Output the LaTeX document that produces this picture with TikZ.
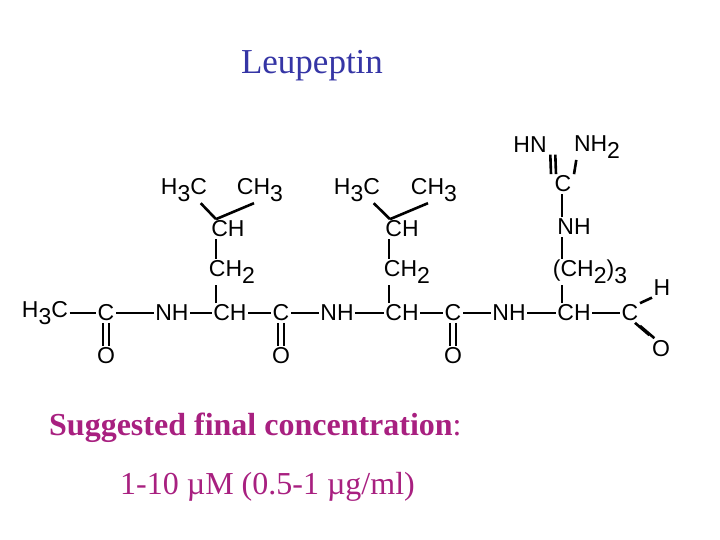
\documentclass[tikz,border=0pt]{standalone}
\usepackage{fontspec}
\setmainfont{Liberation Serif}
\newfontfamily\chem{Liberation Sans}
\definecolor{tblue}{HTML}{3535A5}
\definecolor{mag}{HTML}{A82080}
\newcommand{\sbs}[1]{\raisebox{-0.55ex}{#1}}
\begin{document}
\begin{tikzpicture}[x=1pt,y=-1pt,
 atm/.style={font=\chem\fontsize{23}{23}\selectfont, inner sep=1.5pt},
 bd/.style={line width=2.6pt}]
\useasboundingbox (0,0) rectangle (720,540);
\node[tblue,font=\fontsize{35}{35}\selectfont] (title) at (312,66) {Leupeptin};
% main chain
\node[atm] (me) at (45,313) {H\sbs{3}C};
\node[atm] (c1) at (106,313) {C};
\node[atm] (n1) at (172,313) {NH};
\node[atm] (a1) at (230,313) {CH};
\node[atm] (c2) at (281,313) {C};
\node[atm] (n2) at (337,313) {NH};
\node[atm] (a2) at (402,313) {CH};
\node[atm] (c3) at (453,313) {C};
\node[atm] (n3) at (509,313) {NH};
\node[atm] (a3) at (574,313) {CH};
\node[atm] (c4) at (630,313) {C};
\node[atm] (h4) at (662,288) {H};
\node[atm] (o4) at (661,349) {O};
\node[atm] (o1) at (106,356) {O};
\node[atm] (o2) at (281,356) {O};
\node[atm] (o3) at (453,356) {O};
% side chain 1
\node[atm] (s1a) at (232,272) {CH\sbs{2}};
\node[atm] (s1b) at (228,229) {CH};
\node[atm] (s1l) at (184,190) {H\sbs{3}C};
\node[atm] (s1r) at (260,190) {CH\sbs{3}};
% side chain 2
\node[atm] (s2a) at (407,272) {CH\sbs{2}};
\node[atm] (s2b) at (402,229) {CH};
\node[atm] (s2l) at (357,190) {H\sbs{3}C};
\node[atm] (s2r) at (434,190) {CH\sbs{3}};
% side chain 3
\node[atm] (s3a) at (590,272) {(CH\sbs{2})\sbs{3}};
\node[atm] (s3b) at (574,227) {NH};
\node[atm] (s3c) at (563,184) {C};
\node[atm] (s3l) at (530,145) {HN};
\node[atm] (s3r) at (597,147) {NH\sbs{2}};
% bonds
\draw[bd] (me.east) -- (c1.west);
\draw[bd] (c1.east) -- (n1.west);
\draw[bd] (n1.east) -- (a1.west);
\draw[bd] (a1.east) -- (c2.west);
\draw[bd] (c2.east) -- (n2.west);
\draw[bd] (n2.east) -- (a2.west);
\draw[bd] (a2.east) -- (c3.west);
\draw[bd] (c3.east) -- (n3.west);
\draw[bd] (n3.east) -- (a3.west);
\draw[bd] (a3.east) -- (c4.west);
\draw[bd] (c4.north east) -- (h4.south west);
\foreach \c/\o in {c1/o1,c2/o2,c3/o3}{
  \draw[bd] ([xshift=-3pt]\c.south) -- ([xshift=-3pt]\o.north);
  \draw[bd] ([xshift=3pt]\c.south) -- ([xshift=3pt]\o.north);}
\draw[bd] ([xshift=-5pt,yshift=0pt]c4.south east) -- ([xshift=-1pt,yshift=4pt]o4.north west);
\draw[bd] ([xshift=0pt,yshift=-3pt]c4.south east) -- ([xshift=4pt,yshift=1pt]o4.north west);
\draw[bd] (a1.north -| 216,0) -- (s1a.south -| 216,0);
\draw[bd] (s1a.north -| 216,0) -- (s1b.south -| 216,0);
\draw[bd] (a2.north -| 389,0) -- (s2a.south -| 389,0);
\draw[bd] (s2a.north -| 389,0) -- (s2b.south -| 389,0);
\draw[bd] (a3.north -| 562,0) -- (s3a.south -| 562,0);
\draw[bd] ([xshift=-12pt]s1b.north) -- ([xshift=-8pt]s1l.south east);
\draw[bd] ([xshift=-12pt]s1b.north) -- ([xshift=-6pt]s1r.south);
\draw[bd] ([xshift=-12pt]s2b.north) -- ([xshift=-8pt]s2l.south east);
\draw[bd] ([xshift=-12pt]s2b.north) -- ([xshift=-6pt]s2r.south);
\draw[bd] (s3a.north -| 562,0) -- (s3b.south -| 562,0);
\draw[bd] (s3b.north -| 562,0) -- (s3c.south -| 562,0);
\draw[bd] ([xshift=-2pt]s3c.north west) -- ([xshift=2pt]s3l.south east);
\draw[bd] ([xshift=3pt]s3c.north west) -- ([xshift=7pt]s3l.south east);
\draw[bd] ([xshift=1pt]s3c.north east) -- ([xshift=4pt]s3r.south west);
% text
\node[mag,font=\fontsize{32}{32}\selectfont, anchor=west,inner sep=0pt] (sfc) at (49,428) {\textbf{Suggested final concentration}:};
\node[mag,font=\fontsize{32}{32}\selectfont, anchor=west,inner sep=0pt] (conc) at (120,487) {1-10 µM (0.5-1 µg/ml)};
\end{tikzpicture}
\end{document}
